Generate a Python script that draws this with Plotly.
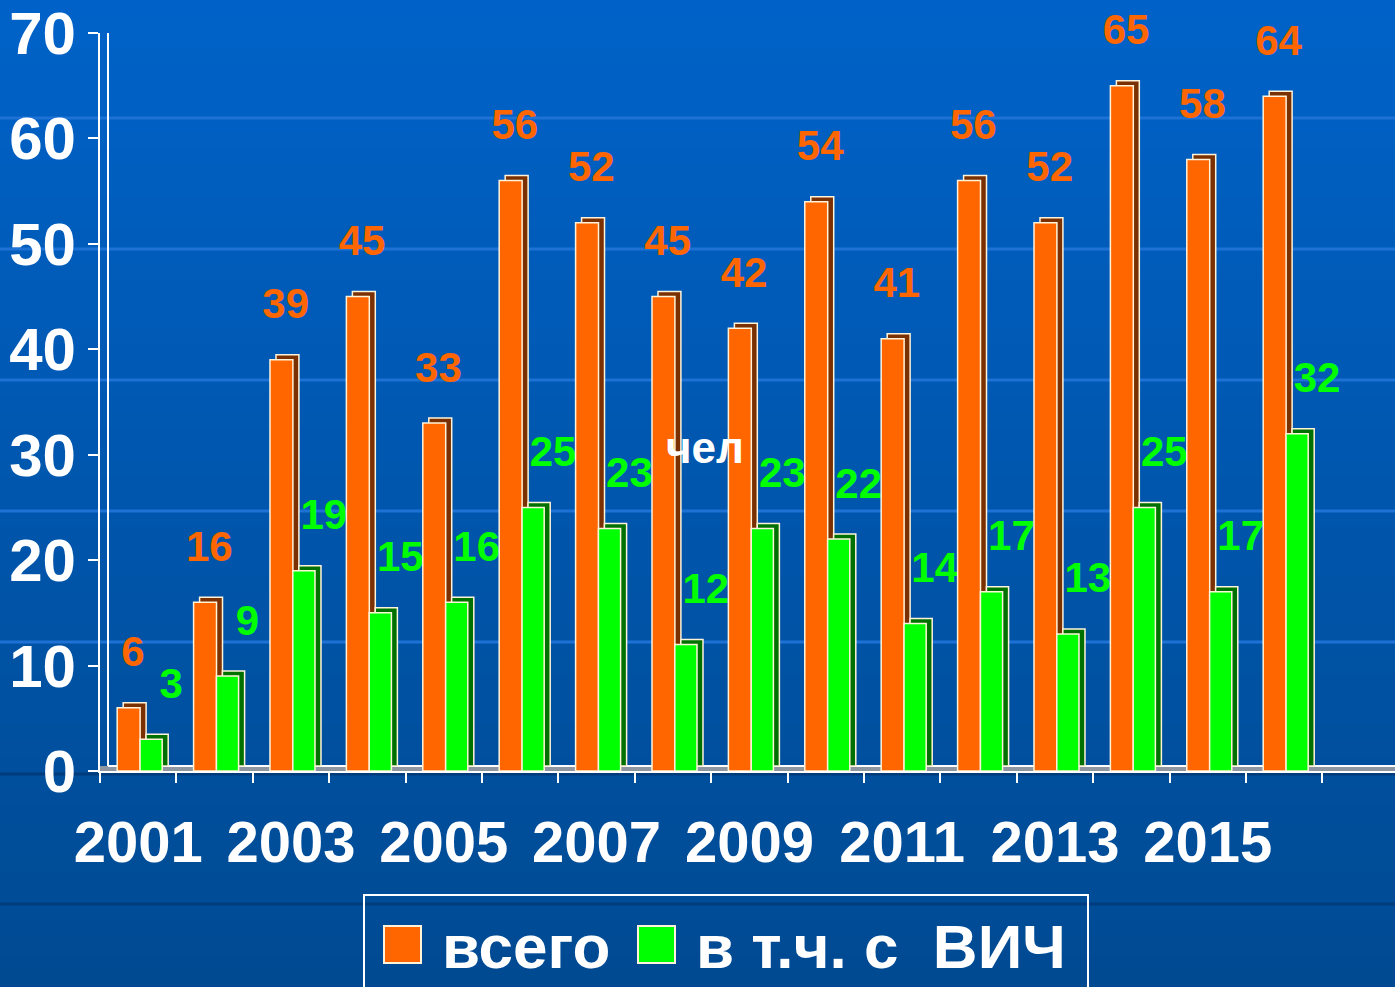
import plotly.graph_objects as go

# ---------------- data ----------------
YEARS = [2001, 2002, 2003, 2004, 2005, 2006, 2007, 2008,
         2009, 2010, 2011, 2012, 2013, 2014, 2015, 2016]
TOTAL = [6, 16, 39, 45, 33, 56, 52, 45, 42, 54, 41, 56, 52, 65, 58, 64]
HIV = [3, 9, 19, 15, 16, 25, 23, 12, 23, 22, 14, 17, 13, 25, 17, 32]
SERIES_NAMES = ["всего", "в т.ч. с  ВИЧ"]
YEAR_TICKS = [2001, 2003, 2005, 2007, 2009, 2011, 2013, 2015]
Y_TICKS = [0, 10, 20, 30, 40, 50, 60, 70]
UNIT_LABEL = "чел"

# ---------------- styles ----------------
ORANGE = "#FF6600"
ORANGE_DARK = "#7A3000"
GREEN = "#00FF00"
GREEN_DARK = "#007000"
OUTLINE = "#FFF3D9"
FONT = "Liberation Sans, Arial, sans-serif"

W, H = 1395, 987
ML, MT, MB = 100, 33, 216
PW = W - ML
PH = H - MT - MB
CAT_PX = 76.4
X0 = YEARS[0] - 0.5
X1 = X0 + PW / CAT_PX
Y_PER_PX = 70.0 / PH

DX = 6 / CAT_PX          # 3D depth in x units
DY = 5 * Y_PER_PX        # 3D depth in y units
LIFT = 2.8               # label lift above bar top


def px_x(p):
    return (p - ML) / PW


def px_y(p):
    return (H - MB - p) / PH


fig = go.Figure()

n = len(YEARS)
label_font_g = dict(color=GREEN, size=42, family=FONT, weight="bold")
label_font_o = dict(color=ORANGE, size=42, family=FONT, weight="bold")

# labels drawn first so that later bars can hide parts of them
fig.add_trace(go.Bar(
    x=YEARS, y=[LIFT] * n, base=HIV, offset=0.43 - 0.15, width=0.3,
    marker=dict(color="rgba(0,0,0,0)", line=dict(width=0)),
    text=[str(v) for v in HIV], textposition="outside", textangle=0,
    constraintext="none", cliponaxis=False,
    textfont=label_font_g, outsidetextfont=label_font_g,
    hoverinfo="skip", showlegend=False))
fig.add_trace(go.Bar(
    x=YEARS, y=[LIFT] * n, base=TOTAL, offset=-0.07 - 0.15, width=0.3,
    marker=dict(color="rgba(0,0,0,0)", line=dict(width=0)),
    text=[str(v) for v in TOTAL], textposition="outside", textangle=0,
    constraintext="none", cliponaxis=False,
    textfont=label_font_o, outsidetextfont=label_font_o,
    hoverinfo="skip", showlegend=False))

# orange bars: depth + front
fig.add_trace(go.Bar(
    x=YEARS, y=TOTAL, base=[DY] * n, offset=-0.275 + DX, width=0.30,
    marker=dict(color=ORANGE_DARK, line=dict(color=OUTLINE, width=1.5)),
    hoverinfo="skip", showlegend=False))
fig.add_trace(go.Bar(
    x=YEARS, y=TOTAL, offset=-0.275, width=0.30, name=SERIES_NAMES[0],
    marker=dict(color=ORANGE, line=dict(color=OUTLINE, width=1.5)),
    showlegend=False))

# green bars: depth + front
fig.add_trace(go.Bar(
    x=YEARS, y=HIV, base=[DY] * n, offset=0.024 + DX, width=0.29,
    marker=dict(color=GREEN_DARK, line=dict(color=OUTLINE, width=1.5)),
    hoverinfo="skip", showlegend=False))
fig.add_trace(go.Bar(
    x=YEARS, y=HIV, offset=0.024, width=0.29, name=SERIES_NAMES[1],
    marker=dict(color=GREEN, line=dict(color=OUTLINE, width=1.5)),
    showlegend=False))

shapes = []

# background gradient bands
top_rgb = (0, 98, 200)
bot_rgb = (0, 74, 146)
NB = 60
for i in range(NB):
    t = i / (NB - 1)
    c = tuple(int(round(top_rgb[k] + (bot_rgb[k] - top_rgb[k]) * t)) for k in range(3))
    y_top = i * H / NB
    y_bot = (i + 1) * H / NB + 1
    shapes.append(dict(type="rect", xref="paper", yref="paper",
                       x0=px_x(0), x1=px_x(W), y0=px_y(y_bot), y1=px_y(y_top),
                       fillcolor="rgb(%d,%d,%d)" % c, line=dict(width=0),
                       layer="below"))

# template lines
for yy in [118, 249, 380, 511, 642]:
    shapes.append(dict(type="line", xref="paper", yref="paper",
                       x0=px_x(0), x1=px_x(W), y0=px_y(yy), y1=px_y(yy),
                       line=dict(color="#1E72D6", width=3), layer="below"))
for yy in [774, 904]:
    shapes.append(dict(type="line", xref="paper", yref="paper",
                       x0=px_x(0), x1=px_x(W), y0=px_y(yy), y1=px_y(yy),
                       line=dict(color="#003C7C", width=3), layer="below"))

# floor
shapes.append(dict(type="rect", xref="paper", yref="y",
                   x0=0, x1=1, y0=0, y1=DY,
                   fillcolor="#8E96A2", line=dict(width=0), layer="below"))
shapes.append(dict(type="line", xref="paper", yref="y",
                   x0=px_x(108), x1=1, y0=DY, y1=DY,
                   line=dict(color="white", width=2), layer="below"))
# back wall
wall_top = 70 + 4 * Y_PER_PX
shapes.append(dict(type="line", xref="paper", yref="y",
                   x0=px_x(108), x1=px_x(108), y0=DY, y1=wall_top,
                   line=dict(color="white", width=2), layer="below"))
shapes.append(dict(type="line", xref="paper", yref="y",
                   x0=px_x(108), x1=1, y0=wall_top, y1=wall_top,
                   line=dict(color="white", width=2), layer="below"))

# manual legend
shapes.append(dict(type="rect", xref="paper", yref="paper",
                   x0=px_x(364), x1=px_x(1088), y0=px_y(1000), y1=px_y(895),
                   line=dict(color="white", width=2), fillcolor="rgba(0,0,0,0)"))
shapes.append(dict(type="rect", xref="paper", yref="paper",
                   x0=px_x(384), x1=px_x(421), y0=px_y(963), y1=px_y(926),
                   line=dict(color=OUTLINE, width=2), fillcolor=ORANGE))
shapes.append(dict(type="rect", xref="paper", yref="paper",
                   x0=px_x(638), x1=px_x(675), y0=px_y(963), y1=px_y(926),
                   line=dict(color=OUTLINE, width=2), fillcolor=GREEN))

legend_font = dict(color="white", size=62, family=FONT, weight="bold")
annotations = [
    dict(text=SERIES_NAMES[0], xref="paper", yref="paper",
         x=px_x(440), y=px_y(946), xanchor="left", yanchor="middle",
         showarrow=False, font=legend_font),
    dict(text=SERIES_NAMES[1].replace("  ", " \u00a0"), xref="paper", yref="paper",
         x=px_x(694), y=px_y(946), xanchor="left", yanchor="middle",
         showarrow=False, font=legend_font),
    dict(text=UNIT_LABEL, xref="paper", yref="paper",
         x=px_x(705), y=px_y(447), xanchor="center", yanchor="middle",
         showarrow=False, font=dict(color="white", size=44, family=FONT, weight="bold")),
]

fig.update_layout(
    width=W, height=H,
    margin=dict(l=ML, r=0, t=MT, b=MB, pad=0),
    paper_bgcolor="#0056AE",
    plot_bgcolor="rgba(0,0,0,0)",
    barmode="overlay",
    showlegend=False,
    shapes=shapes,
    annotations=annotations,
    font=dict(family=FONT, color="white"),
    xaxis=dict(
        range=[X0, X1], tickmode="array", tickvals=YEAR_TICKS,
        ticktext=[str(y) for y in YEAR_TICKS], ticks="",
        tickfont=dict(size=58, color="white", family=FONT, weight="bold"),
        ticklabelstandoff=19,
        showline=True, linecolor="white", linewidth=2,
        showgrid=False, zeroline=False, fixedrange=True,
        minor=dict(tickmode="array",
                   tickvals=[y - 0.5 for y in YEARS] + [YEARS[-1] + 0.5],
                   ticks="outside", ticklen=10, tickwidth=2,
                   tickcolor="white", showgrid=False),
    ),
    yaxis=dict(
        range=[0, 70], tickmode="array", tickvals=Y_TICKS,
        ticks="outside", ticklen=10, tickwidth=2, tickcolor="white",
        tickfont=dict(size=60, color="white", family=FONT, weight="bold"),
        ticklabelstandoff=0,
        showline=True, linecolor="white", linewidth=2,
        showgrid=False, zeroline=False, fixedrange=True,
    ),
)

fig.write_html(
    "out.html",
    config={"displayModeBar": False},
    post_script="document.body.style.margin='0';document.body.style.overflow='hidden';",
)
